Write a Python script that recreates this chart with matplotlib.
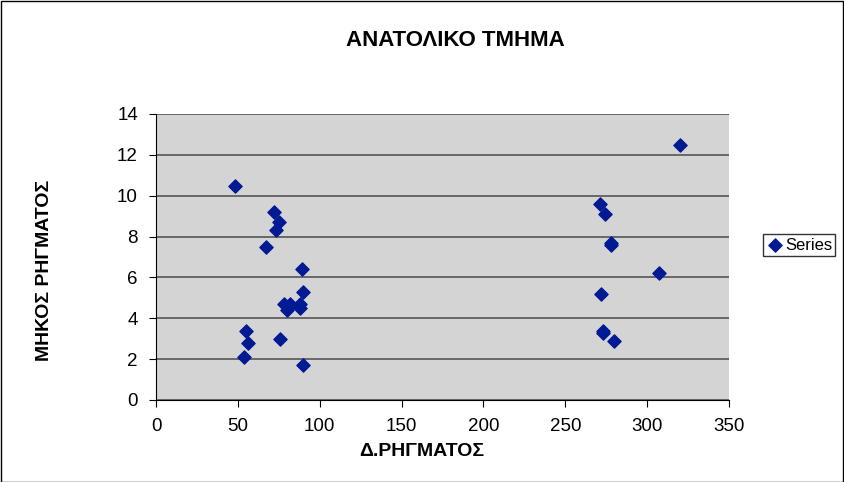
import matplotlib.pyplot as plt

# Δ.ΡΗΓΜΑΤΟΣ / ΜΗΚΟΣ ΡΗΓΜΑΤΟΣ
dist = [48, 72, 75, 73, 67, 89, 90, 78, 82, 80, 88, 88, 55, 56, 54, 76, 90,
        271, 274, 278, 278, 272, 273, 273, 280, 307, 320]
length = [10.5, 9.2, 8.7, 8.3, 7.5, 6.4, 5.3, 4.7, 4.7, 4.4, 4.7, 4.5, 3.4, 2.8, 2.1, 3.0, 1.7,
          9.6, 9.1, 7.6, 7.7, 5.2, 3.3, 3.4, 2.9, 6.2, 12.5]

plt.rcParams['font.family'] = ['Liberation Sans', 'DejaVu Sans']
fig = plt.figure(figsize=(8.44, 4.82), dpi=100)
fig.patches.append(plt.Rectangle((0.001, 0.001), 0.998, 0.997, transform=fig.transFigure,
                                 fill=False, edgecolor='black', lw=1))
ax = fig.add_axes([156 / 844, 1 - 400 / 482, 573 / 844, 286 / 482])
ax.set_facecolor('#d4d4d4')
ax.scatter(dist, length, marker='D', s=45, color='#001a94', label='Series', zorder=3)
ax.set_xlim(0, 350)
ax.set_ylim(0, 14)
ax.set_xticks(range(0, 351, 50))
ax.set_yticks(range(0, 15, 2))
ax.grid(axis='y', color='#555555', lw=1.2)
ax.tick_params(labelsize=13.5, length=5, pad=8)
for s in ['top', 'right']:
    ax.spines[s].set_visible(False)
fig.text(422 / 844, 1 - 452 / 482, 'Δ.ΡΗΓΜΑΤΟΣ', ha='center', va='center',
         fontsize=14, fontweight='bold')
fig.text(45 / 844, 1 - 270 / 482, 'ΜΗΚΟΣ ΡΗΓΜΑΤΟΣ', ha='center', va='center',
         rotation=90, fontsize=14, fontweight='bold')
fig.text(455 / 844, 1 - 40 / 482, 'ΑΝΑΤΟΛΙΚΟ ΤΜΗΜΑ', ha='center', va='center',
         fontsize=16, fontweight='bold')
leg = fig.legend(loc='center left', bbox_to_anchor=(755 / 844, 1 - 245 / 482), fontsize=12,
                 frameon=True, fancybox=False, edgecolor='black', handletextpad=0.1,
                 borderpad=0.2, handlelength=1)
plt.savefig('out.png', dpi=100)
